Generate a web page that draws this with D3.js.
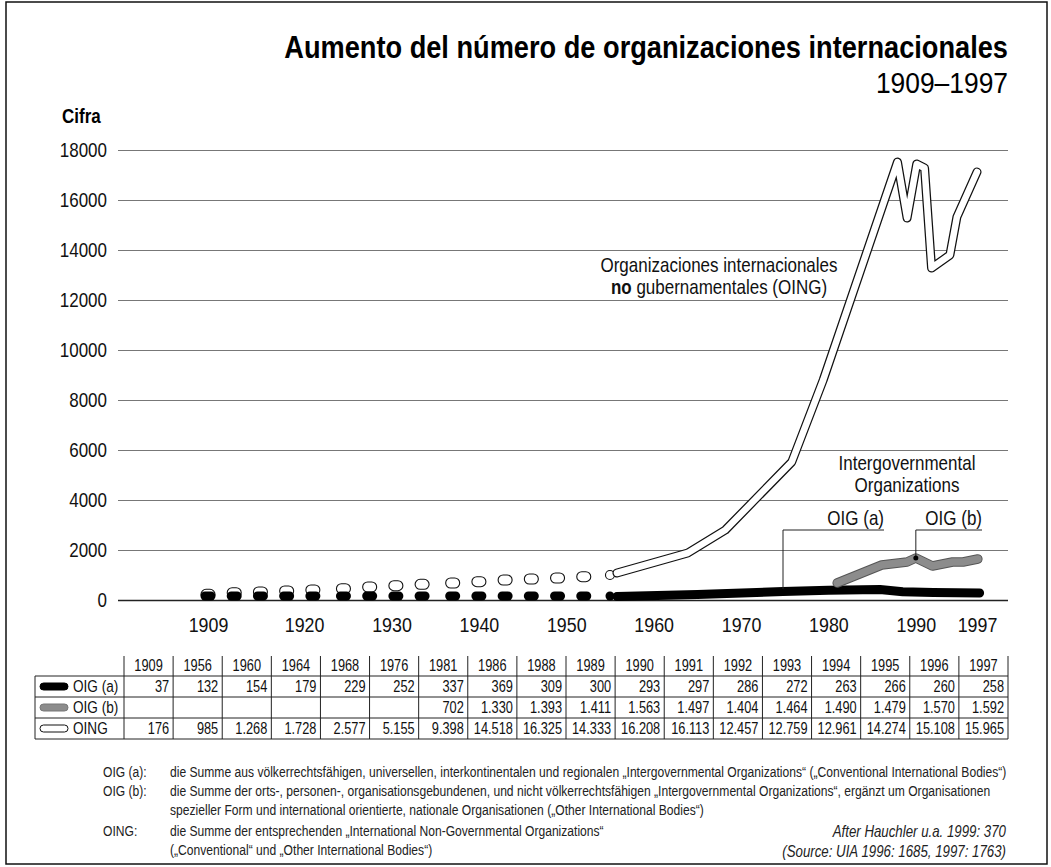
<!DOCTYPE html>
<html>
<head>
<meta charset="utf-8">
<script src="https://cdn.jsdelivr.net/npm/d3@7"></script>
<style>
    body { margin: 0; background: #fff; }
    svg { display: block; font-family: "Liberation Sans", Arial, sans-serif; }
</style>
</head>
<body>
<script>
// values
let oingDotYears = [1909, 1912, 1915, 1918, 1921, 1924.5, 1927.5, 1930.5, 1933.5, 1937, 1940, 1943, 1946, 1949, 1952];
let oingDotValues = [228, 292, 320, 360, 400, 452, 520, 572, 628, 680, 732, 800, 840, 880, 932];
let oigaDotValues = [160, 160, 160, 160, 160, 160, 160, 160, 160, 160, 160, 160, 160, 160, 160];

let oingYears = [1955.8, 1963.9, 1968.2, 1975.8, 1979.4, 1987.9, 1989.0, 1990.1, 1991.0, 1991.8, 1993.9, 1994.7, 1997];
let oingValues = [1080, 1880, 2800, 5520, 8800, 17520, 15280, 17440, 17280, 13280, 13800, 15320, 17120];

let oigaYears = [1955.8, 1965, 1974.8, 1980, 1985.9, 1988.5, 1992, 1997.3];
let oigaValues = [140, 220, 340, 390, 420, 330, 300, 280];

let oigbYears = [1981.0, 1986.1, 1989.0, 1990.0, 1991.9, 1994.2, 1995.4, 1997.1];
let oigbValues = [680, 1400, 1520, 1680, 1360, 1520, 1520, 1640];

let xTicks = [1909, 1920, 1930, 1940, 1950, 1960, 1970, 1980, 1990, 1997];
let yTicks = [0, 2000, 4000, 6000, 8000, 10000, 12000, 14000, 16000, 18000];

// table
let tableYears = [1909, 1956, 1960, 1964, 1968, 1976, 1981, 1986, 1988, 1989, 1990, 1991, 1992, 1993, 1994, 1995, 1996, 1997];
let tableOiga = [37, 132, 154, 179, 229, 252, 337, 369, 309, 300, 293, 297, 286, 272, 263, 266, 260, 258];
let tableOigb = [null, null, null, null, null, null, 702, 1330, 1393, 1411, 1563, 1497, 1404, 1464, 1490, 1479, 1570, 1592];
let tableOing = [176, 985, 1268, 1728, 2577, 5155, 9398, 14518, 16325, 14333, 16208, 16113, 12457, 12759, 12961, 14274, 15108, 15965];
let rowNames = ["OIG (a)", "OIG (b)", "OING"];

let notes = [
    ["OIG (a):", "die Summe aus völkerrechtsfähigen, universellen, interkontinentalen und regionalen „Intergovernmental Organizations“ („Conventional International Bodies“)"],
    ["OIG (b):", "die Summe der orts-, personen-, organisationsgebundenen, und nicht völkerrechtsfähigen „Intergovernmental Organizations“, ergänzt um Organisationen"],
    ["", "spezieller Form und international orientierte, nationale Organisationen („Other International Bodies“)"],
    ["OING:", "die Summe der entsprechenden „International Non-Governmental Organizations“"],
    ["", "(„Conventional“ und „Other International Bodies“)"]
];

let width = 1051, height = 867;
let narrow = 0.85;   // no condensed face installed, so squeeze a normal one
let fmt = d3.formatLocale({decimal: ",", thousands: ".", grouping: [3], currency: ["", ""]}).format(",d");

function addText(parent, x, y, str, size, sx, anchor) {
    return parent.append("text")
        .attr("transform", "translate(" + x + "," + y + ") scale(" + sx + ",1)")
        .attr("text-anchor", anchor || "start")
        .style("font-size", size + "px")
        .text(str);
}

let svg = d3.select("body").append("svg")
    .attr("width", width)
    .attr("height", height);

svg.append("rect")
    .attr("x", 6).attr("y", 2)
    .attr("width", 1041).attr("height", 862)
    .attr("fill", "#fff").attr("stroke", "#111").attr("stroke-width", 1.5);

let x = d3.scaleLinear().domain([1909, 1997]).range([208, 977]);
let y = d3.scaleLinear().domain([0, 18000]).range([600, 150]);

// titles
addText(svg, 1008, 58, "Aumento del número de organizaciones internacionales", 32, 0.85, "end")
    .style("font-weight", "bold");
addText(svg, 1008, 93, "1909–1997", 30, 0.88, "end");
addText(svg, 62, 123, "Cifra", 20, 0.85).style("font-weight", "bold");

// y axis with grid
let yAxis = d3.axisLeft(y)
    .tickValues(yTicks)
    .tickSize(890)
    .tickPadding(11)
    .tickFormat(d3.format("d"));
let gy = svg.append("g")
    .attr("transform", "translate(1008,0)")
    .call(yAxis);
gy.select(".domain").remove();
gy.selectAll(".tick line")
    .attr("stroke", d => d === 0 ? "#222" : "#777")
    .attr("stroke-width", d => d === 0 ? 1.5 : 1.2);
gy.selectAll(".tick text")
    .attr("fill", "#111")
    .attr("x", function () { return +this.getAttribute("x") / narrow; })
    .attr("transform", "scale(" + narrow + ",1)")
    .style("font-size", "20px")
    .style("font-family", "inherit");

// x axis labels only
let xAxis = d3.axisBottom(x).tickValues(xTicks).tickSize(0).tickPadding(0).tickFormat(d3.format("d"));
let gx = svg.append("g")
    .attr("transform", "translate(0,617)")
    .call(xAxis);
gx.select(".domain").remove();
gx.selectAll(".tick text")
    .attr("fill", "#111")
    .attr("transform", "scale(" + narrow + ",1)")
    .style("font-size", "21px")
    .style("font-family", "inherit");

// early years as separate markers
svg.append("g").selectAll("rect")
    .data(oingDotYears)
    .enter().append("rect")
    .attr("x", d => x(d) - 7)
    .attr("y", (d, i) => y(oingDotValues[i]) - 5)
    .attr("width", 14).attr("height", 10).attr("rx", 5)
    .attr("fill", "#fff").attr("stroke", "#111").attr("stroke-width", 1.1);
svg.append("g").selectAll("rect")
    .data(oingDotYears)
    .enter().append("rect")
    .attr("x", d => x(d) - 7.5)
    .attr("y", (d, i) => y(oigaDotValues[i]) - 4.5)
    .attr("width", 15).attr("height", 9).attr("rx", 4.5)
    .attr("fill", "#000");
svg.append("circle")
    .attr("cx", x(1955)).attr("cy", y(1000)).attr("r", 4.5)
    .attr("fill", "#fff").attr("stroke", "#111").attr("stroke-width", 1.1);
svg.append("circle")
    .attr("cx", x(1955)).attr("cy", y(160)).attr("r", 4.5)
    .attr("fill", "#000");

let line = d3.line()
    .x(d => x(d[0]))
    .y(d => y(d[1]));

let oiga = d3.zip(oigaYears, oigaValues);
let oigb = d3.zip(oigbYears, oigbValues);
let oing = d3.zip(oingYears, oingValues);

svg.append("path").datum(oiga)
    .attr("d", line).attr("fill", "none")
    .attr("stroke", "#000").attr("stroke-width", 9)
    .attr("stroke-linecap", "round").attr("stroke-linejoin", "round");

svg.append("path").datum(oigb)
    .attr("d", line).attr("fill", "none")
    .attr("stroke", "#555").attr("stroke-width", 9.5)
    .attr("stroke-linecap", "round").attr("stroke-linejoin", "round");
svg.append("path").datum(oigb)
    .attr("d", line).attr("fill", "none")
    .attr("stroke", "#8c8c8c").attr("stroke-width", 7.5)
    .attr("stroke-linecap", "round").attr("stroke-linejoin", "round");

svg.append("path").datum(oing)
    .attr("d", line).attr("fill", "none")
    .attr("stroke", "#111").attr("stroke-width", 9)
    .attr("stroke-linecap", "round").attr("stroke-linejoin", "round");
svg.append("path").datum(oing)
    .attr("d", line).attr("fill", "none")
    .attr("stroke", "#fff").attr("stroke-width", 6.5)
    .attr("stroke-linecap", "round").attr("stroke-linejoin", "round");

// labels
let lab = svg.append("g").attr("fill", "#111");
addText(lab, 719, 272, "Organizaciones internacionales", 20, narrow, "middle");
let t2 = addText(lab, 719, 294, null, 20, narrow, "middle");
t2.append("tspan").style("font-weight", "bold").text("no");
t2.append("tspan").text(" gubernamentales (OING)");
addText(lab, 907, 470, "Intergovernmental", 20, narrow, "middle");
addText(lab, 907, 492, "Organizations", 20, narrow, "middle");

let pointers = [
    {name: "OIG (a)", year: 1974.8, value: 340, x2: 884},
    {name: "OIG (b)", year: 1990.0, value: 1680, x2: 982}
];
pointers.forEach(function (p) {
    let px = x(p.year), py = y(p.value);
    svg.append("path")
        .attr("d", "M" + px + "," + py + "V530H" + p.x2)
        .attr("fill", "none").attr("stroke", "#222").attr("stroke-width", 1);
    svg.append("circle").attr("cx", px).attr("cy", py).attr("r", 2.5).attr("fill", "#000");
    addText(lab, p.x2, 525, p.name, 20, narrow, "end");
});

// table
let col = d3.scaleBand().domain(tableYears).range([124, 1008]);
let rowTop = [676, 697, 718];
let rowH = 21;
let tsz = 16, tsx = 0.8;
let tbl = svg.append("g").attr("fill", "#111");

tableYears.forEach(function (yr) {
    addText(tbl, col(yr) + col.bandwidth() / 2, 671, yr, tsz, tsx, "middle");
});

let rows = [tableOiga, tableOigb, tableOing];
rows.forEach(function (vals, r) {
    vals.forEach(function (v, i) {
        if (v === null) return;
        addText(tbl, col(tableYears[i]) + col.bandwidth() - 4, rowTop[r] + 16, fmt(v), tsz, tsx, "end");
    });
    addText(tbl, 73, rowTop[r] + 16, rowNames[r], 17, tsx);
});

// swatches
let sw = [{fill: "#000", stroke: "#000"}, {fill: "#8c8c8c", stroke: "#777"}, {fill: "#fff", stroke: "#111"}];
sw.forEach(function (s, r) {
    tbl.append("rect")
        .attr("x", 40).attr("y", rowTop[r] + rowH / 2 - 3.5)
        .attr("width", 28).attr("height", 7).attr("rx", 3.5)
        .attr("fill", s.fill).attr("stroke", s.stroke).attr("stroke-width", 1);
});

// grid lines of table
let tg = svg.append("g").attr("stroke", "#222").attr("stroke-width", 1);
[676, 697, 718, 739].forEach(function (yy) {
    tg.append("line").attr("x1", 35).attr("x2", 1008).attr("y1", yy).attr("y2", yy);
});
tg.append("line").attr("x1", 35).attr("x2", 35).attr("y1", 676).attr("y2", 739);
tableYears.forEach(function (yr) {
    tg.append("line").attr("x1", col(yr)).attr("x2", col(yr)).attr("y1", 656).attr("y2", 739);
});
tg.append("line").attr("x1", 1008).attr("x2", 1008).attr("y1", 656).attr("y2", 739);

// footnotes
let fn = svg.append("g").attr("fill", "#222");
let noteY = [777, 796, 815, 836, 855];
notes.forEach(function (n, i) {
    if (n[0]) addText(fn, 103, noteY[i], n[0], 14.5, 0.835);
    addText(fn, 170, noteY[i], n[1], 14.5, 0.835);
});
let src = svg.append("g").style("font-style", "italic").attr("fill", "#222");
addText(src, 1006, 837, "After Hauchler u.a. 1999: 370", 16, 0.83, "end");
addText(src, 1006, 857, "(Source: UIA 1996: 1685, 1997: 1763)", 16, 0.83, "end");
</script>
</body>
</html>
